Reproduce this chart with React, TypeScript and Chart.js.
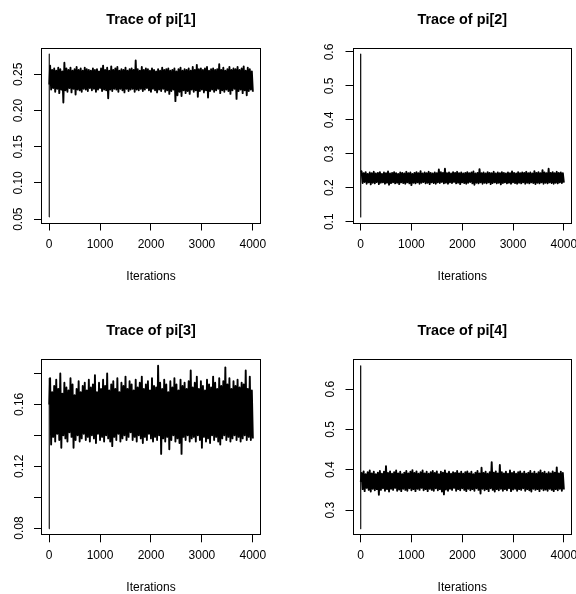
import React, { useEffect, useRef } from "react";
import Chart from "chart.js/auto";

const FONT = "'Liberation Sans', Arial, Helvetica, sans-serif";

const titles = ["Trace of pi[1]", "Trace of pi[2]", "Trace of pi[3]", "Trace of pi[4]"];
const xLabel = "Iterations";
const xTicks = [0, 1000, 2000, 3000, 4000];
const xTickLabels = ["0", "1000", "2000", "3000", "4000"];
const firstIter = 1;
const lastIter = 4000;
const colStart = 20;
const colStep = 40;

const yTicks1 = [0.05, 0.1, 0.15, 0.2, 0.25];
const yTickLabels1 = ["0.05", "0.10", "0.15", "0.20", "0.25"];
const yTicks2 = [0.1, 0.2, 0.3, 0.4, 0.5, 0.6];
const yTickLabels2 = ["0.1", "0.2", "0.3", "0.4", "0.5", "0.6"];
const yTicks3 = [0.08, 0.1, 0.12, 0.14, 0.16, 0.18];
const yTickLabels3 = ["0.08", "", "0.12", "", "0.16", ""];
const yTicks4 = [0.3, 0.4, 0.5, 0.6];
const yTickLabels4 = ["0.3", "0.4", "0.5", "0.6"];

// first iterations of each chain
const start1 = [0.053, 0.278, 0.245, 0.236];
const start2 = [0.594, 0.114, 0.282, 0.25];
const start3 = [0.0795, 0.177, 0.134, 0.16];
const start4 = [0.658, 0.2535, 0.305, 0.37];

// per-column highs / lows of the trace
const upper1 = [
  0.262, 0.256, 0.258, 0.255, 0.259, 0.257, 0.254, 0.266, 0.258, 0.256,
  0.259, 0.255, 0.257, 0.26, 0.256, 0.258, 0.255, 0.259, 0.257, 0.256,
  0.255, 0.258, 0.256, 0.257, 0.254, 0.258, 0.262, 0.256, 0.259, 0.255,
  0.261, 0.256, 0.258, 0.26, 0.255, 0.257, 0.256, 0.259, 0.255, 0.257,
  0.258, 0.256, 0.269, 0.257, 0.255, 0.26, 0.256, 0.258, 0.257, 0.255,
  0.258, 0.256, 0.254, 0.257, 0.255, 0.259, 0.256, 0.257, 0.258, 0.255,
  0.256, 0.258, 0.254, 0.257, 0.259, 0.255, 0.257, 0.256, 0.258, 0.255,
  0.26, 0.256, 0.263, 0.257, 0.258, 0.256, 0.258, 0.26, 0.255, 0.257,
  0.258, 0.256, 0.257, 0.264, 0.256, 0.259, 0.255, 0.257, 0.26, 0.256,
  0.258, 0.257, 0.26, 0.256, 0.258, 0.261, 0.255, 0.259, 0.257, 0.254,
];
const lower1 = [
  0.229, 0.231, 0.226, 0.23, 0.224, 0.229, 0.211, 0.228, 0.226, 0.231,
  0.225, 0.23, 0.222, 0.229, 0.228, 0.226, 0.23, 0.229, 0.227, 0.231,
  0.228, 0.23, 0.226, 0.229, 0.231, 0.227, 0.229, 0.228, 0.217, 0.229,
  0.227, 0.23, 0.229, 0.226, 0.23, 0.228, 0.225, 0.23, 0.227, 0.229,
  0.23, 0.226, 0.229, 0.228, 0.23, 0.227, 0.229, 0.231, 0.228, 0.226,
  0.23, 0.228, 0.225, 0.229, 0.227, 0.23, 0.226, 0.228, 0.223, 0.227,
  0.229, 0.213, 0.221, 0.226, 0.22, 0.228, 0.224, 0.227, 0.223, 0.229,
  0.226, 0.228, 0.219, 0.227, 0.229, 0.225, 0.228, 0.218, 0.227, 0.229,
  0.226, 0.228, 0.23, 0.224, 0.228, 0.226, 0.229, 0.227, 0.223, 0.228,
  0.23, 0.216, 0.227, 0.229, 0.224, 0.228, 0.221, 0.227, 0.229, 0.226,
];

const upper2 = [
  0.248, 0.243, 0.246, 0.241, 0.245, 0.243, 0.247, 0.242, 0.244, 0.246,
  0.241, 0.245, 0.243, 0.248, 0.242, 0.244, 0.246, 0.243, 0.241, 0.245,
  0.244, 0.242, 0.247, 0.243, 0.245, 0.241, 0.244, 0.246, 0.243, 0.249,
  0.242, 0.245, 0.243, 0.247, 0.244, 0.242, 0.245, 0.243, 0.254, 0.246,
  0.244, 0.256, 0.243, 0.245, 0.242, 0.246, 0.244, 0.247, 0.243, 0.245,
  0.242, 0.244, 0.246, 0.243, 0.245, 0.248, 0.242, 0.244, 0.255, 0.243,
  0.245, 0.242, 0.246, 0.244, 0.243, 0.247, 0.242, 0.245, 0.243, 0.246,
  0.244, 0.242, 0.245, 0.243, 0.248, 0.244, 0.242, 0.246, 0.243, 0.245,
  0.244, 0.247, 0.243, 0.245, 0.242, 0.249, 0.244, 0.246, 0.243, 0.252,
  0.245, 0.243, 0.256, 0.244, 0.246, 0.243, 0.247, 0.244, 0.245, 0.243,
];
const lower2 = [
  0.214, 0.217, 0.212, 0.216, 0.21, 0.215, 0.213, 0.217, 0.211, 0.215,
  0.216, 0.212, 0.215, 0.209, 0.214, 0.216, 0.213, 0.215, 0.211, 0.216,
  0.214, 0.212, 0.216, 0.213, 0.208, 0.215, 0.213, 0.216, 0.212, 0.215,
  0.217, 0.213, 0.215, 0.211, 0.216, 0.214, 0.212, 0.216, 0.214, 0.217,
  0.213, 0.215, 0.212, 0.216, 0.214, 0.217, 0.213, 0.215, 0.211, 0.216,
  0.214, 0.212, 0.215, 0.217, 0.213, 0.209, 0.215, 0.213, 0.216, 0.212,
  0.215, 0.213, 0.216, 0.211, 0.214, 0.216, 0.213, 0.215, 0.21, 0.214,
  0.216, 0.213, 0.215, 0.212, 0.216, 0.214, 0.212, 0.215, 0.213, 0.216,
  0.212, 0.215, 0.213, 0.216, 0.214, 0.211, 0.215, 0.213, 0.216, 0.212,
  0.215, 0.213, 0.216, 0.214, 0.212, 0.215, 0.213, 0.216, 0.214, 0.215,
];

const upper3 = [
  0.177, 0.168, 0.172, 0.176, 0.17, 0.18, 0.167, 0.174, 0.171, 0.169,
  0.177, 0.173, 0.166, 0.17, 0.175, 0.168, 0.172, 0.174, 0.169, 0.176,
  0.171, 0.173, 0.179, 0.168, 0.174, 0.17, 0.176, 0.172, 0.18, 0.169,
  0.173, 0.175, 0.17, 0.177, 0.168, 0.174, 0.172, 0.178, 0.17, 0.175,
  0.173, 0.169, 0.176, 0.171, 0.174, 0.178, 0.17, 0.173, 0.175, 0.169,
  0.177, 0.172, 0.171, 0.185, 0.174, 0.17, 0.176, 0.173, 0.168, 0.175,
  0.171, 0.177, 0.173, 0.169, 0.176, 0.172, 0.174, 0.17, 0.175, 0.182,
  0.171, 0.174, 0.178, 0.17, 0.175, 0.172, 0.169, 0.176, 0.173, 0.171,
  0.178, 0.174, 0.17, 0.177, 0.172, 0.175, 0.184, 0.173, 0.177, 0.17,
  0.175, 0.172, 0.176, 0.171, 0.174, 0.173, 0.182, 0.17, 0.178, 0.169,
];
const lower3 = [
  0.134, 0.139, 0.136, 0.141, 0.137, 0.132, 0.14, 0.138, 0.136, 0.142,
  0.139, 0.132, 0.137, 0.14, 0.136, 0.138, 0.141, 0.137, 0.139, 0.136,
  0.14, 0.138, 0.135, 0.141, 0.137, 0.139, 0.136, 0.14, 0.138, 0.136,
  0.133, 0.139, 0.137, 0.141, 0.136, 0.138, 0.14, 0.137, 0.139, 0.142,
  0.137, 0.139, 0.136, 0.14, 0.138, 0.135, 0.139, 0.137, 0.141, 0.138,
  0.136, 0.139, 0.137, 0.14, 0.128, 0.138, 0.136, 0.139, 0.131, 0.137,
  0.14, 0.136, 0.138, 0.135, 0.128, 0.139, 0.137, 0.14, 0.136, 0.138,
  0.139, 0.136, 0.14, 0.137, 0.132, 0.139, 0.136, 0.138, 0.135, 0.14,
  0.137, 0.139, 0.136, 0.134, 0.138, 0.14, 0.137, 0.139, 0.136, 0.138,
  0.14, 0.137, 0.139, 0.136, 0.138, 0.14, 0.137, 0.139, 0.137, 0.138,
];

const upper4 = [
  0.392, 0.396, 0.389, 0.394, 0.398, 0.391, 0.395, 0.389, 0.393, 0.397,
  0.39, 0.395, 0.409, 0.392, 0.396, 0.39, 0.394, 0.398, 0.391, 0.395,
  0.389, 0.393, 0.397, 0.391, 0.395, 0.399, 0.392, 0.396, 0.39, 0.394,
  0.398, 0.391, 0.395, 0.39, 0.394, 0.397, 0.392, 0.396, 0.389, 0.395,
  0.393, 0.398, 0.391, 0.395, 0.39, 0.394, 0.392, 0.397, 0.391, 0.395,
  0.39, 0.394, 0.396, 0.391, 0.395, 0.389, 0.393, 0.397, 0.391, 0.405,
  0.392, 0.395, 0.39, 0.394, 0.419, 0.393, 0.396, 0.391, 0.412, 0.394,
  0.391, 0.395, 0.39, 0.398, 0.392, 0.395, 0.39, 0.394, 0.396, 0.391,
  0.395, 0.39, 0.393, 0.397, 0.391, 0.395, 0.39, 0.394, 0.398, 0.392,
  0.395, 0.39, 0.394, 0.391, 0.396, 0.393, 0.406, 0.391, 0.395, 0.392,
];
const lower4 = [
  0.352, 0.347, 0.355, 0.35, 0.346, 0.353, 0.349, 0.352, 0.338, 0.35,
  0.354, 0.348, 0.352, 0.346, 0.353, 0.35, 0.355, 0.348, 0.351, 0.347,
  0.353, 0.35, 0.348, 0.354, 0.349, 0.352, 0.347, 0.353, 0.35, 0.355,
  0.349, 0.352, 0.347, 0.353, 0.35, 0.348, 0.354, 0.349, 0.352, 0.346,
  0.339, 0.351, 0.348, 0.353, 0.35, 0.355, 0.348, 0.352, 0.349, 0.354,
  0.35, 0.347, 0.353, 0.349, 0.352, 0.348, 0.354, 0.35, 0.341, 0.353,
  0.349, 0.352, 0.347, 0.354, 0.35, 0.346, 0.352, 0.349, 0.353, 0.348,
  0.352, 0.349, 0.354, 0.347, 0.351, 0.353, 0.348, 0.352, 0.35, 0.354,
  0.348, 0.352, 0.349, 0.346, 0.353, 0.35, 0.352, 0.347, 0.353, 0.349,
  0.351, 0.348, 0.353, 0.35, 0.347, 0.352, 0.349, 0.353, 0.348, 0.351,
];

// panel layout (absolute page pixels)
type Geo = { left: number; right: number; top: number; bottom: number; titleY: number; tickY: number; xlabY: number; ylabOff: number };
const geos: Geo[] = [
  { left: 41, right: 261, top: 47.5, bottom: 223.5, titleY: 20, tickY: 245, xlabY: 276.5, ylabOff: 22 },
  { left: 352.5, right: 572, top: 47.5, bottom: 223.5, titleY: 20, tickY: 245, xlabY: 276.5, ylabOff: 23 },
  { left: 41, right: 261, top: 359.3, bottom: 535.3, titleY: 331, tickY: 556, xlabY: 588, ylabOff: 21 },
  { left: 352.5, right: 572, top: 359.3, bottom: 535.3, titleY: 331, tickY: 556, xlabY: 588, ylabOff: 22 },
];

const W = 576;
const H = 594;

const panels = [
  { title: titles[0], start: start1, upper: upper1, lower: lower1, yTicks: yTicks1, yLabels: yTickLabels1 },
  { title: titles[1], start: start2, upper: upper2, lower: lower2, yTicks: yTicks2, yLabels: yTickLabels2 },
  { title: titles[2], start: start3, upper: upper3, lower: lower3, yTicks: yTicks3, yLabels: yTickLabels3 },
  { title: titles[3], start: start4, upper: upper4, lower: lower4, yTicks: yTicks4, yLabels: yTickLabels4 },
];

function buildSeries(start: number[], upper: number[], lower: number[]) {
  const pts: { x: number; y: number }[] = start.map((v, i) => ({ x: firstIter + i, y: v }));
  upper.forEach((u, j) => {
    const it = colStart + j * colStep;
    pts.push({ x: it, y: u });
    pts.push({ x: Math.min(lastIter, it + colStep / 2), y: lower[j] });
  });
  return pts;
}

const rFrame = {
  id: "rFrame",
  afterDraw(chart: any, _args: any, opts: any) {
    const { ctx, chartArea: a } = chart;
    ctx.save();
    ctx.strokeStyle = "#000";
    ctx.lineWidth = 1;
    const l = Math.round(a.left) + 0.5;
    const t = Math.round(a.top) + 0.5;
    const r = Math.round(a.right) - 0.5;
    const b = Math.round(a.bottom) - 0.5;
    ctx.strokeRect(l, t, r - l, b - t);
    const ys = chart.scales.y;
    ctx.fillStyle = "#000";
    ctx.font = `12px ${FONT}`;
    ctx.textAlign = "center";
    ctx.textBaseline = "middle";
    (opts.values as number[]).forEach((v, i) => {
      const lab = opts.labels[i];
      if (!lab) return;
      const py = ys.getPixelForValue(v);
      ctx.save();
      ctx.translate(a.left - opts.offset, py);
      ctx.rotate(-Math.PI / 2);
      ctx.fillText(lab, 0, 0);
      ctx.restore();
    });
    ctx.restore();
  },
};

function buildConfig(idx: number): any {
  const p = panels[idx];
  const g = geos[idx];
  const all = [...p.start, ...p.upper, ...p.lower];
  const dMin = Math.min(...all);
  const dMax = Math.max(...all);
  const yExt = (dMax - dMin) * 0.04;
  const xExt = (lastIter - firstIter) * 0.04;
  const yAxisW = 40;
  const titleLH = 14.4 * 1.2;
  const labLH = 12 * 1.2;
  const tickLen = 7;
  const nStart = p.start.length;
  return {
    type: "line",
    data: {
      datasets: [
        {
          data: buildSeries(p.start, p.upper, p.lower),
          borderColor: "#000",
          borderWidth: 1.9,
          borderJoinStyle: "round",
          pointRadius: 0,
          tension: 0,
          fill: false,
          segment: {
            borderWidth: (c: any) => (c.p0DataIndex < nStart - 1 ? 1.1 : 1.9),
          },
        },
      ],
    },
    options: {
      responsive: false,
      devicePixelRatio: 1,
      animation: false,
      events: [],
      layout: { padding: { left: g.left - yAxisW, right: W - g.right, top: 0, bottom: 0 } },
      plugins: {
        legend: { display: false },
        tooltip: { enabled: false },
        title: {
          display: true,
          text: p.title,
          fullSize: false,
          color: "#000",
          font: { size: 14.4, weight: "bold", family: FONT, lineHeight: 1.2 },
          padding: { top: g.titleY - titleLH / 2, bottom: g.top - g.titleY - titleLH / 2 },
        },
        rFrame: { values: p.yTicks, labels: p.yLabels, offset: g.ylabOff },
      },
      scales: {
        x: {
          type: "linear",
          min: firstIter - xExt,
          max: lastIter + xExt,
          afterBuildTicks: (s: any) => {
            s.ticks = xTicks.map((v) => ({ value: v }));
          },
          afterFit: (s: any) => {
            s.height = H - g.bottom;
            s.paddingLeft = 0;
            s.paddingRight = 0;
          },
          ticks: {
            autoSkip: false,
            maxRotation: 0,
            minRotation: 0,
            color: "#000",
            padding: g.tickY - g.bottom - tickLen - labLH / 2,
            font: { size: 12, family: FONT, lineHeight: 1.2 },
            callback: (_v: any, i: number) => xTickLabels[i],
          },
          grid: { display: true, drawOnChartArea: false, drawTicks: true, tickLength: tickLen, color: "#000", lineWidth: 1 },
          border: { display: false },
          title: {
            display: true,
            text: xLabel,
            color: "#000",
            font: { size: 12, family: FONT, lineHeight: 1.2 },
            padding: { top: 0, bottom: H - g.xlabY - labLH / 2 },
          },
        },
        y: {
          type: "linear",
          min: dMin - yExt,
          max: dMax + yExt,
          afterBuildTicks: (s: any) => {
            s.ticks = p.yTicks.map((v) => ({ value: v }));
          },
          afterFit: (s: any) => {
            s.width = yAxisW;
            s.paddingTop = 0;
            s.paddingBottom = 0;
          },
          ticks: { display: false },
          grid: { display: true, drawOnChartArea: false, drawTicks: true, tickLength: tickLen, color: "#000", lineWidth: 1 },
          border: { display: false },
        },
      },
    },
    plugins: [rFrame],
  };
}

function Panel({ idx }: { idx: number }) {
  const ref = useRef<HTMLCanvasElement | null>(null);
  useEffect(() => {
    if (!ref.current) return;
    const chart = new Chart(ref.current, buildConfig(idx));
    return () => chart.destroy();
  }, [idx]);
  return (
    <canvas
      ref={ref}
      width={W}
      height={H}
      style={{ position: "absolute", left: 0, top: 0, width: W, height: H, display: "block" }}
    />
  );
}

export default function App() {
  return (
    <div style={{ position: "absolute", left: 0, top: 0, width: W, height: H, background: "#fff", overflow: "hidden" }}>
      {panels.map((_, i) => (
        <Panel key={i} idx={i} />
      ))}
    </div>
  );
}
